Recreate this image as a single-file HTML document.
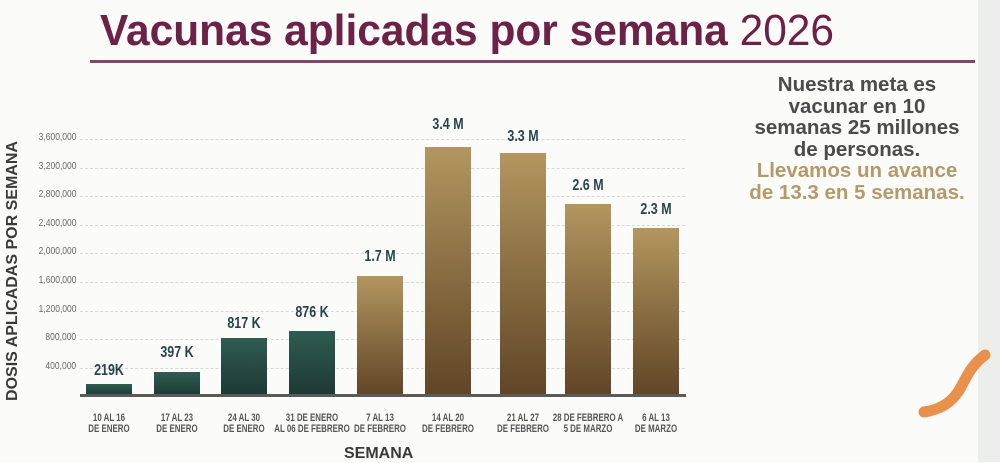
<!DOCTYPE html>
<html><head><meta charset="utf-8"><style>
body{margin:0;width:1000px;height:462px;overflow:hidden;background:#fbfbfa;font-family:"Liberation Sans",sans-serif;position:relative}
.a{position:absolute}
.t{left:100px;top:6px;font-size:44px;font-weight:bold;color:#6b2246;white-space:nowrap;transform:scaleX(0.965);transform-origin:left}
.t span{font-weight:normal}
.bar{position:absolute;width:46px;bottom:66px}
.g{background:linear-gradient(#2f5c52,#1d3835)}
.o{background:linear-gradient(#b3965f,#5f4526)}
.v{position:absolute;width:80px;text-align:center;font-weight:bold;font-size:16px;color:#26454b;white-space:nowrap;transform:scaleX(0.78)}
.x{position:absolute;width:120px;text-align:center;font-weight:bold;font-size:11px;line-height:11px;color:#555;top:413px;white-space:nowrap;transform:scaleX(0.72)}
.y{position:absolute;left:0;width:76px;text-align:right;font-size:10px;color:#666;white-space:nowrap}
.y i{display:inline-block;font-style:normal;transform:scaleX(0.85);transform-origin:right}
.gl{position:absolute;left:80px;width:605px;border-top:1px dashed #d8d8d8}
.r{left:722px;width:270px;top:74px;text-align:center;font-size:20.5px;font-weight:bold;line-height:21.5px;color:#4b4b4b}
</style></head><body>
<div class="a" style="left:978px;top:0;width:22px;height:462px;background:#eceeec"></div>
<div class="a t">Vacunas aplicadas por semana <span>2026</span></div>
<div class="a" style="left:90px;top:60px;width:885px;height:3px;background:#7c4a62"></div>
<div class="a r">Nuestra meta es<br>vacunar en 10<br>semanas 25 millones<br>de personas.<br><span style="color:#b39a68">Llevamos un avance<br>de 13.3 en 5 semanas.</span></div>

<div class="gl" style="top:139px"></div><div class="gl" style="top:168px"></div><div class="gl" style="top:196px"></div><div class="gl" style="top:225px"></div><div class="gl" style="top:253px"></div><div class="gl" style="top:282px"></div><div class="gl" style="top:311px"></div><div class="gl" style="top:339px"></div><div class="gl" style="top:368px"></div>
<div class="y" style="top:132px"><i>3,600,000</i></div><div class="y" style="top:161px"><i>3,200,000</i></div><div class="y" style="top:189px"><i>2,800,000</i></div><div class="y" style="top:218px"><i>2,400,000</i></div><div class="y" style="top:246px"><i>2,000,000</i></div><div class="y" style="top:275px"><i>1,600,000</i></div><div class="y" style="top:304px"><i>1,200,000</i></div><div class="y" style="top:332px"><i>800,000</i></div><div class="y" style="top:361px"><i>400,000</i></div>

<div class="a" style="left:-127px;top:262px;width:280px;text-align:center;transform:rotate(-90deg);font-size:16px;font-weight:bold;color:#3a3a3a;white-space:nowrap">DOSIS APLICADAS POR SEMANA</div>

<div class="bar g" style="left:86px;height:12px"></div>
<div class="bar g" style="left:154px;height:24px"></div>
<div class="bar g" style="left:221px;height:58px"></div>
<div class="bar g" style="left:289px;height:65px"></div>
<div class="bar o" style="left:357px;height:120px"></div>
<div class="bar o" style="left:425px;height:249px"></div>
<div class="bar o" style="left:500px;height:243px"></div>
<div class="bar o" style="left:565px;height:192px"></div>
<div class="bar o" style="left:633px;height:168px"></div>
<div class="a" style="left:80px;top:394px;width:606px;height:3px;background:#5a5a5a"></div>

<div class="v" style="left:69px;top:362px">219K</div>
<div class="v" style="left:137px;top:344px">397 K</div>
<div class="v" style="left:204px;top:315px">817 K</div>
<div class="v" style="left:272px;top:304px">876 K</div>
<div class="v" style="left:340px;top:248px">1.7 M</div>
<div class="v" style="left:408px;top:116px">3.4 M</div>
<div class="v" style="left:483px;top:128px">3.3 M</div>
<div class="v" style="left:548px;top:177px">2.6 M</div>
<div class="v" style="left:616px;top:201px">2.3 M</div>

<div class="x" style="left:49px">10 AL 16<br>DE ENERO</div>
<div class="x" style="left:117px">17 AL 23<br>DE ENERO</div>
<div class="x" style="left:184px">24 AL 30<br>DE ENERO</div>
<div class="x" style="left:252px">31 DE ENERO<br>AL 06 DE FEBRERO</div>
<div class="x" style="left:320px">7 AL 13<br>DE FEBRERO</div>
<div class="x" style="left:388px">14 AL 20<br>DE FEBRERO</div>
<div class="x" style="left:463px">21 AL 27<br>DE FEBRERO</div>
<div class="x" style="left:528px">28 DE FEBRERO A<br>5 DE MARZO</div>
<div class="x" style="left:596px">6 AL 13<br>DE MARZO</div>
<div class="a" style="left:344px;top:445px;font-size:16px;font-weight:bold;color:#3a3a3a">SEMANA</div>

<svg class="a" style="left:0;top:0" width="1000" height="462"><path d="M985,355 C968,368 966,380 958,392 C950,404 938,410 924,412" stroke="#e8914c" stroke-width="11" fill="none" stroke-linecap="round"/></svg>
</body></html>
